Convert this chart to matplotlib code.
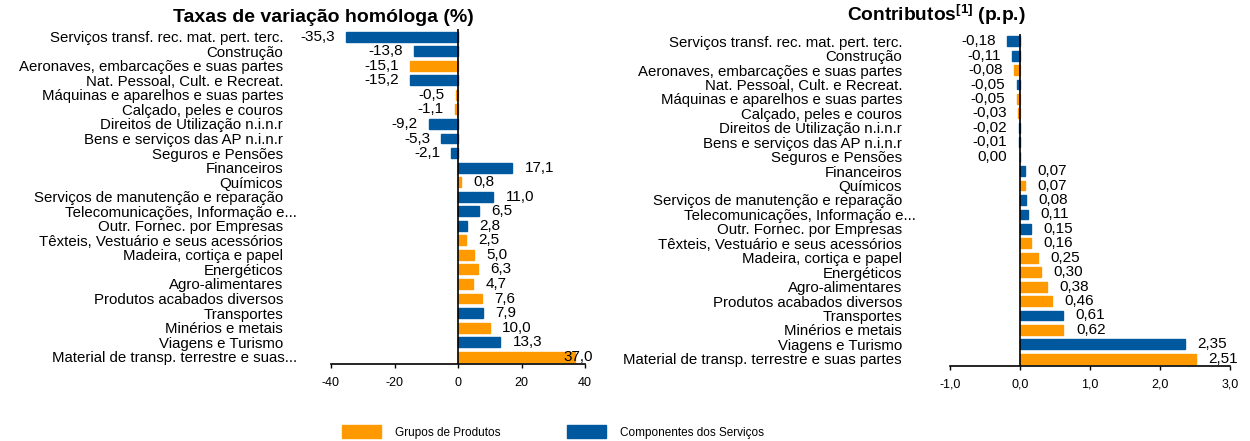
import numpy as np
import matplotlib
matplotlib.use("Agg")
from matplotlib import pyplot as plt
from matplotlib.patches import Patch
from matplotlib.transforms import ScaledTranslation

plt.rcParams['font.family'] = ['Liberation Sans', 'DejaVu Sans']
plt.rcParams['mathtext.fontset'] = 'custom'
plt.rcParams['mathtext.rm'] = 'Liberation Sans'
plt.rcParams['mathtext.bf'] = 'Liberation Sans:bold'

# categories, top to bottom
labels_right = [
    "Serviços transf. rec. mat. pert. terc.",
    "Construção",
    "Aeronaves, embarcações e suas partes",
    "Nat. Pessoal, Cult. e Recreat.",
    "Máquinas e aparelhos e suas partes",
    "Calçado, peles e couros",
    "Direitos de Utilização n.i.n.r",
    "Bens e serviços das AP n.i.n.r",
    "Seguros e Pensões",
    "Financeiros",
    "Químicos",
    "Serviços de manutenção e reparação",
    "Telecomunicações, Informação e...",
    "Outr. Fornec. por Empresas",
    "Têxteis, Vestuário e seus acessórios",
    "Madeira, cortiça e papel",
    "Energéticos",
    "Agro-alimentares",
    "Produtos acabados diversos",
    "Transportes",
    "Minérios e metais",
    "Viagens e Turismo",
    "Material de transp. terrestre e suas partes",
]
labels_left = labels_right[:-1] + ["Material de transp. terrestre e suas..."]

# P = Grupos de Produtos, S = Componentes dos Serviços
kind = ["S", "S", "P", "S", "P", "P", "S", "S", "S", "S", "P", "S",
        "S", "S", "P", "P", "P", "P", "P", "S", "P", "S", "P"]

taxas = [-35.3, -13.8, -15.1, -15.2, -0.5, -1.1, -9.2, -5.3, -2.1, 17.1, 0.8, 11.0,
         6.5, 2.8, 2.5, 5.0, 6.3, 4.7, 7.6, 7.9, 10.0, 13.3, 37.0]
contributos = [-0.18, -0.11, -0.08, -0.05, -0.05, -0.03, -0.02, -0.01, 0.00, 0.07, 0.07, 0.08,
               0.11, 0.15, 0.16, 0.25, 0.30, 0.38, 0.46, 0.61, 0.62, 2.35, 2.51]

ORANGE = "#FF9900"
BLUE = "#00589F"
colors = [ORANGE if k == "P" else BLUE for k in kind]


def fmt(v, nd):
    return f"{v:.{nd}f}".replace(".", ",")


def draw_panel(ax, labels, values, xlim, xticks, nd_val, nd_tick):
    n = len(values)
    pos = np.arange(n)
    ax.barh(pos, values, height=0.68, color=colors, edgecolor=colors, linewidth=1.0, zorder=2)
    ax.set_ylim(n - 0.5, -0.5)
    ax.set_xlim(*xlim)
    ax.axvline(0, color="black", lw=1.2, zorder=3)

    ax.set_yticks(pos)
    ax.set_yticklabels(labels, fontsize=10.8)
    ax.tick_params(axis="y", length=0, pad=34.5)
    # the "..." hangs past the alignment edge, as in the source
    for tl in ax.get_yticklabels():
        if tl.get_text().endswith("..."):
            tl.set_transform(tl.get_transform() + ScaledTranslation(10 / 72, 0, ax.figure.dpi_scale_trans))

    ax.set_xticks(xticks)
    ax.set_xticklabels([fmt(t, nd_tick) for t in xticks], fontsize=9)
    ax.tick_params(axis="x", direction="out", length=3, width=1, pad=6)
    for s in ["left", "right", "top"]:
        ax.spines[s].set_visible(False)
    ax.spines["bottom"].set_linewidth(1.2)

    for i, v in enumerate(values):
        txt = fmt(v, nd_val)
        if v > 0.8 * xlim[1]:
            ax.annotate(txt, xy=(xlim[1], i), xytext=(6, 0), textcoords="offset points",
                        ha="right", va="center", fontsize=11, zorder=4)
        elif v >= 0 and not (v == 0 and nd_val == 2):
            ax.annotate(txt, xy=(v, i), xytext=(9, 0), textcoords="offset points",
                        ha="left", va="center", fontsize=11, zorder=4)
        else:
            ax.annotate(txt, xy=(min(v, -0.03 * (xlim[1] - xlim[0]) / 4), i), xytext=(-8, 0),
                        textcoords="offset points", ha="right", va="center", fontsize=11, zorder=4)


fig = plt.figure(figsize=(12.5, 4.41), dpi=100)
ax1 = fig.add_axes([331 / 1250, 1 - 364 / 441, 254 / 1250, 334.6 / 441])
ax2 = fig.add_axes([950 / 1250, 1 - 366 / 441, 280 / 1250, 332 / 441])

draw_panel(ax1, labels_left, taxas, (-40, 40), [-40, -20, 0, 20, 40], 1, 0)
draw_panel(ax2, labels_right, contributos, (-1.0, 3.0), [-1.0, 0.0, 1.0, 2.0, 3.0], 2, 1)

fig.text(323.5 / 1250, 1 - 18 / 441, "Taxas de variação homóloga (%)",
         ha="center", va="center", fontsize=14, fontweight="bold")
fig.text(936 / 1250, 1 - 15 / 441, r"Contributos$^{\mathbf{[1]}}$ (p.p.)",
         ha="center", va="center", fontsize=13.8, fontweight="bold")

handles = [Patch(color=ORANGE, label="Grupos de Produtos"),
           Patch(color=BLUE, label="Componentes dos Serviços")]
fig.legend(handles=handles, loc="center left", bbox_to_anchor=(342 / 1250, 1 - 432 / 441),
           ncol=2, frameon=False, fontsize=8.5, handlelength=3.3, handleheight=1.2,
           handletextpad=1.2, columnspacing=5.6, borderpad=0, borderaxespad=0)

fig.savefig("out.png", dpi=100)
